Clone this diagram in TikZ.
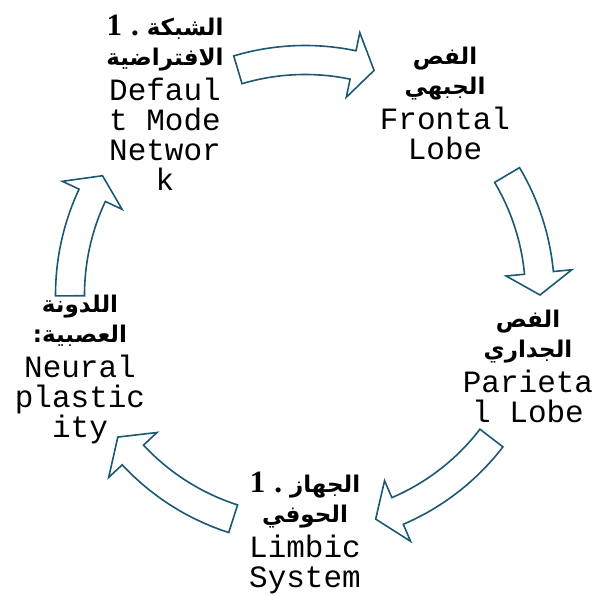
\documentclass[tikz,border=0pt]{standalone}
\usepackage{fontspec}
\setmonofont{Liberation Mono}
\newfontfamily\arabicfont[Script=Arabic]{DejaVu Sans}
\newfontfamily\numfont{Liberation Serif}
\TeXXeTstate=1
\definecolor{cycleblue}{RGB}{28,88,116}
\newcommand{\arline}[1]{{\arabicfont\bfseries\fontsize{23}{30}\selectfont\beginR #1\endR}}
\newcommand{\numdot}{{\numfont\bfseries 1\hspace{9pt}.}}
% block arrow on the circle: tail angle, head base angle, tip angle
\newcommand{\cyclearrow}[3]{%
  \draw[arrowshape] (#1:249.5) arc[start angle=#1, end angle=#2, radius=249.5]
    -- (#2:268) -- (#3:235) -- (#2:202) -- (#2:220.5)
    arc[start angle=#2, end angle=#1, radius=220.5] -- cycle;}
\tikzset{
  arrowshape/.style={draw=cycleblue, line width=1.6pt, fill=white, line join=miter},
  cycletext/.style={align=center, inner sep=0pt, font=\fontsize{31}{30}\selectfont\ttfamily}
}
\begin{document}
\begin{tikzpicture}[x=1pt,y=1pt]
\useasboundingbox (0,0) rectangle (596,596);
\coordinate (ctr) at (305,301);
\begin{scope}[shift={(ctr)}]
\cyclearrow{106.6}{78.2}{72.9}
\cyclearrow{30.7}{5.4}{0}
\cyclearrow{322.5}{293.2}{287.5}
\cyclearrow{252.2}{222.9}{217.2}
\cyclearrow{180.2}{154.9}{149.5}
\end{scope}
\node[cycletext] (dmn) at (165,493)
  {\numdot\hspace{8pt}\arline{الشبكة}\\ \arline{الافتراضية}\\[5pt] Defaul\\t Mode\\Networ\\k};
\node[cycletext] (frontal) at (445,493)
  {\arline{الفص}\\ \arline{الجبهي}\\[5pt] Frontal\\Lobe};
\node[cycletext] (parietal) at (528,230)
  {\arline{الفص}\\ \arline{الجداري}\\[5pt] Parieta\\l Lobe};
\node[cycletext] (limbic) at (305,63)
  {\numdot\hspace{8pt}\arline{الجهاز}\\ \arline{الحوفي}\\[5pt] Limbic\\System};
\node[cycletext] (plasticity) at (80,227)
  {\arline{اللدونة}\\ \arline{العصبية:}\\[5pt] Neural\\plastic\\ity};
\end{tikzpicture}
\end{document}
